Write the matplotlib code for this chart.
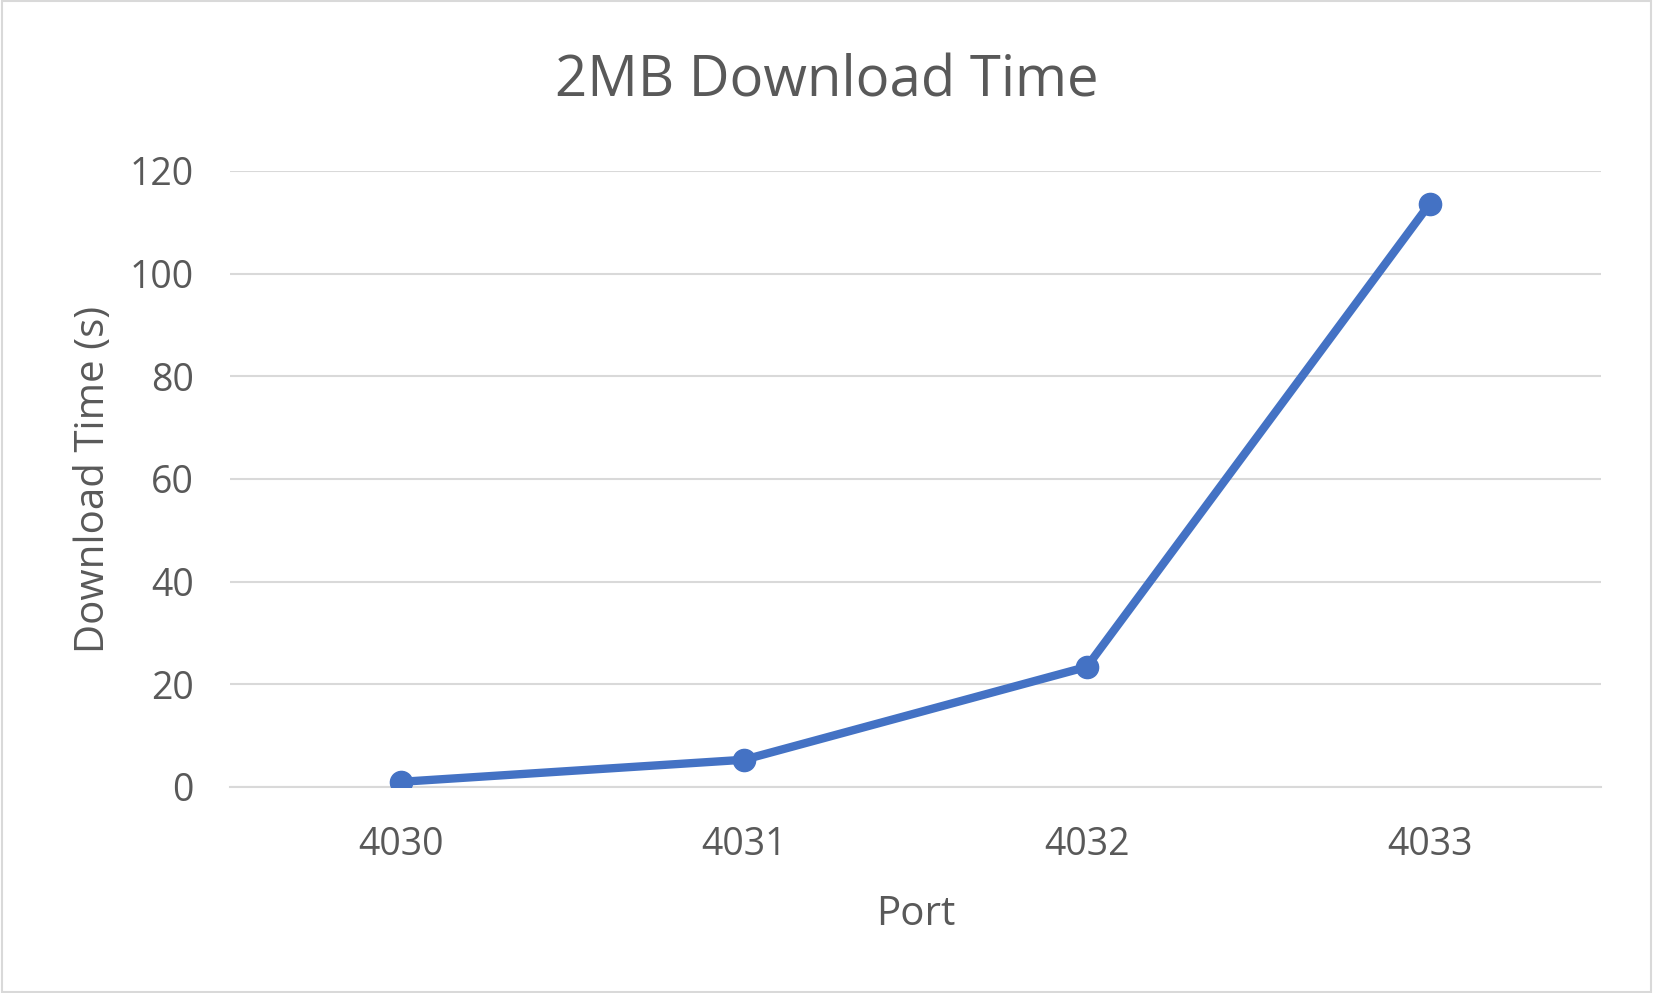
import matplotlib.pyplot as plt

# data
ports = ["4030", "4031", "4032", "4033"]
download_time = [1.0, 5.3, 23.4, 113.6]
y_ticks = [0, 20, 40, 60, 80, 100, 120]

text_color = "#595959"
line_color = "#4472C4"
grid_color = "#D9D9D9"

plt.rcParams['font.family'] = ['Open Sans', 'DejaVu Sans']

fig = plt.figure(figsize=(16.53, 9.93), dpi=100)
ax = fig.add_axes([0.139, 0.2075, 0.8296, 0.6203])

x = list(range(len(ports)))
ax.plot(x, download_time, color=line_color, linewidth=6, marker="o",
        markersize=16, zorder=3)

ax.set_xlim(-0.5, len(ports) - 0.5)
ax.set_ylim(0, 120)
ax.set_xticks(x)
ax.set_xticklabels(ports)
ax.set_yticks(y_ticks)
ax.grid(axis="y", color=grid_color, linewidth=1.5)
ax.set_axisbelow(True)
for side in ["top", "right", "left"]:
    ax.spines[side].set_visible(False)
ax.spines["bottom"].set_color(grid_color)
ax.spines["bottom"].set_linewidth(1.5)
ax.tick_params(length=0, labelsize=27, colors=text_color)
ax.tick_params(axis="x", pad=28)
ax.tick_params(axis="y", pad=26)

ax.set_xlabel("Port", fontsize=29, color=text_color, labelpad=22)
ax.set_ylabel("Download Time (s)", fontsize=29, color=text_color, labelpad=11)
fig.suptitle("2MB Download Time", fontsize=40.5, color=text_color, y=0.946)

# light border round the chart area
fig.patches.append(plt.Rectangle((0.001, 0.001), 0.998, 0.998, transform=fig.transFigure,
                                 fill=False, edgecolor="#D9D9D9", linewidth=1.5))

fig.savefig("out.png", dpi=100)
